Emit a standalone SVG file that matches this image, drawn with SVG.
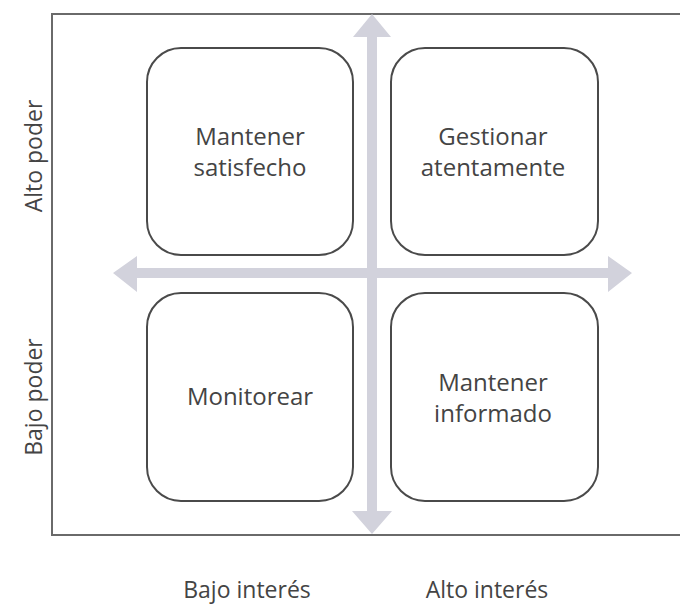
<svg xmlns="http://www.w3.org/2000/svg" width="680" height="606" viewBox="0 0 680 606">
<style>
.box{fill:none;stroke:#4a4a4a;stroke-width:2}
.frame{fill:none;stroke:#6a6a6a;stroke-width:2}
.arr{fill:#d2d2dc}
text{font-family:"Open Sans","Liberation Sans",sans-serif;font-size:24px;fill:#444444;text-anchor:middle}
.ax{font-size:23px}
</style>
<rect width="680" height="606" fill="#ffffff"/>
<g id="frame"><path class="frame" d="M690 14 H52 V535 H690"/></g>
<g id="connectors">
<path class="arr" d="M367 37 H353 L372 14 L391 37 H377 V511 H392 L372 534 L352 511 H367 Z"/>
<path class="arr" d="M137 268 V256 L113 273 L137 292 V278 H608 V292 L632 273 L608 256 V268 Z"/>
</g>
<g id="n1"><rect class="box" x="147" y="48" width="206" height="207" rx="34"/><text x="250" y="145">Mantener</text><text x="250" y="176">satisfecho</text></g>
<g id="n2"><rect class="box" x="391" y="48" width="207" height="207" rx="34"/><text x="493" y="145">Gestionar</text><text x="493" y="176">atentamente</text></g>
<g id="n3"><rect class="box" x="147" y="293" width="206" height="208" rx="34"/><text x="250" y="405">Monitorear</text></g>
<g id="n4"><rect class="box" x="391" y="293" width="207" height="208" rx="34"/><text x="493" y="391">Mantener</text><text x="493" y="422">informado</text></g>
<g id="labels">
<text class="ax" transform="translate(42 156) rotate(-90)">Alto poder</text>
<text class="ax" transform="translate(42 397) rotate(-90)">Bajo poder</text>
<text class="ax" x="247" y="598">Bajo interés</text>
<text class="ax" x="487" y="598">Alto interés</text>
</g>
</svg>
